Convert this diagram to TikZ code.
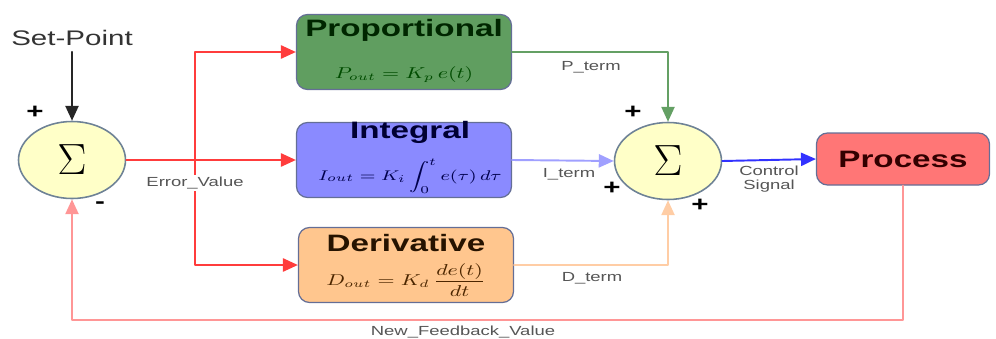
\documentclass[tikz,border=0pt]{standalone}
\usepackage{amsmath,amssymb}
\usepackage{fontspec}
\setmainfont{Liberation Sans}[FakeStretch=1.4]
\usepackage{tikz}
\usetikzlibrary{arrows.meta,calc,positioning,shapes.geometric}
\definecolor{sumfill}{RGB}{255,255,200}
\definecolor{sumdraw}{RGB}{110,130,150}
\definecolor{boxdraw}{RGB}{100,110,150}
\definecolor{pfill}{RGB}{96,158,96}
\definecolor{ifill}{RGB}{138,138,255}
\definecolor{dfill}{RGB}{255,198,142}
\definecolor{procfill}{RGB}{255,118,118}
\definecolor{errred}{RGB}{255,60,60}
\definecolor{pline}{RGB}{100,160,100}
\definecolor{iline}{RGB}{160,160,255}
\definecolor{dline}{RGB}{255,205,165}
\definecolor{cline}{RGB}{50,50,255}
\definecolor{fbline}{RGB}{255,150,150}
\definecolor{lblgray}{RGB}{85,85,85}
\newcommand{\wideit}[1]{\scalebox{1.35}[1]{#1}}
\tikzset{
  sumnode/.style={ellipse, draw=sumdraw, fill=sumfill, line width=0.9pt,
    minimum width=21.4mm, minimum height=15.4mm, inner sep=0pt},
  blockbox/.style={rectangle, rounded corners=2.2mm, draw=boxdraw, line width=0.7pt,
    minimum width=43mm, minimum height=15mm},
  titletxt/.style={font=\fontsize{13.5}{15}\selectfont\bfseries, inner sep=0pt},
  formtxt/.style={font=\small, inner sep=0pt},
  lbl/.style={font=\fontsize{7.5}{8.5}\selectfont, text=lblgray, inner sep=1pt, align=center},
  sgn/.style={font=\fontsize{12}{12}\selectfont\bfseries, inner sep=0pt},
  wire/.style={line width=1.1pt, -{Triangle[length=8.5pt,width=7.5pt]}},
  every picture/.style={line cap=round, line join=round}
}

\begin{document}
\begin{tikzpicture}[x=0.2mm, y=-0.2mm]
  \useasboundingbox (0,0) rectangle (996,338);

  \node[sumnode] (sum1) at (72,160) {\fontsize{32}{34}\selectfont$\Sigma$};
  \node[sumnode] (sum2) at (668,161) {\fontsize{32}{34}\selectfont$\Sigma$};
  \node[font=\fontsize{12}{14}\selectfont, text=black!80] (sp) at (72,38) {Set-Point};

  \node[blockbox, fill=pfill] (prop) at (404,52) {};
  \node[blockbox, fill=ifill] (integ) at (404,160) {};
  \node[blockbox, fill=dfill] (deriv) at (406,265) {};
  \node[blockbox, fill=procfill, minimum width=34.6mm, minimum height=10.4mm] (proc) at (903,159) {};

  \node[titletxt, text=black!85!green] (ptitle) at (404,30) {Proportional};
  \node[titletxt, text=black!80!blue] (ititle) at (410,132) {Integral};
  \node[titletxt, text=black!85!orange] (dtitle) at (406,243) {Derivative};
  \node[titletxt, text=black!80!red] (ptxt) at (903,159) {Process};

  \node[formtxt, text=black!70!green] (pform) at (404,75) {\wideit{$P_{out}=K_p\,e(t)$}};
  \node[formtxt, font=\footnotesize, text=black!70!blue] (iform) at (410,176) {\wideit{$\displaystyle I_{out}=K_i\int_0^t e(\tau)\,d\tau$}};
  \node[formtxt, text=black!70!orange] (dform) at (406,280) {\wideit{$D_{out}=K_d\,\dfrac{de(t)}{dt}$}};

  \coordinate (split) at (195,160);
  \coordinate (fb) at (470,320);

  \draw[wire, black!85] (sp) -- (sum1.north);
  \draw[wire, errred] (split) |- (prop.west);
  \draw[wire, errred] (split) |- (deriv.west);
  \draw[wire, errred] (sum1.east) -- (integ.west);
  \draw[wire, pline] (prop.east) -| (sum2.north);
  \draw[wire, iline] (integ.east) -- (sum2.west);
  \draw[wire, dline] (deriv.east) -| (sum2.south);
  \draw[wire, cline] (sum2.east) -- (proc.west);
  \draw[wire, fbline] (proc.south) |- (fb) -| (sum1.south);

  \node[lbl, fill=white] (errlbl) at (195,183) {Error\_Value};
  \node[lbl] (plbl) at (591,67) {P\_term};
  \node[lbl] (ilbl) at (569,174) {I\_term};
  \node[lbl] (dlbl) at (592,278) {D\_term};
  \node[lbl] (clbl) at (769,179) {Control\\[-1pt]Signal};
  \node[lbl] (fblbl) at (463,332) {New\_Feedback\_Value};

  \node[sgn] (s1) at (35,112) {+};
  \node[sgn] (s2) at (100,205) {-};
  \node[sgn] (s3) at (633,112) {+};
  \node[sgn] (s4) at (612,188) {+};
  \node[sgn] (s5) at (700,205) {+};
\end{tikzpicture}
\end{document}
